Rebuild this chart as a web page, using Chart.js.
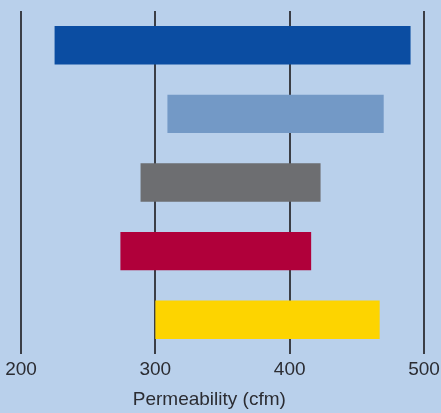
<!DOCTYPE html>
<html>
<head>
<meta charset="utf-8">
<script src="https://cdn.jsdelivr.net/npm/chart.js@4"></script>
<style>
  html, body { margin: 0; padding: 0; background: #b9d0eb; }
  #wrap { width: 441px; height: 413px; }
</style>
</head>
<body>
<div id="wrap"><canvas id="chart" width="441" height="413"></canvas></div>
<script>
// Permeability ranges (cfm) for five materials, low to high
const categories = ['Sample 1', 'Sample 2', 'Sample 3', 'Sample 4', 'Sample 5'];
const lowValues  = [225, 309, 289, 274, 300];
const highValues = [490, 470, 423, 416, 467];
const barColors  = ['#0b4da2', '#7399c6', '#6d6e71', '#b0003a', '#fdd400'];
const tickValues = [200, 300, 400, 500];
const axisTitle  = 'Permeability (cfm)';

const FONT = '"Liberation Sans", Arial, sans-serif';

const ranges = categories.map((_, i) => [lowValues[i], highValues[i]]);

new Chart(document.getElementById('chart'), {
  type: 'bar',
  data: {
    labels: categories,
    datasets: [{
      data: ranges,
      backgroundColor: barColors,
      borderWidth: 0,
      barPercentage: 0.56,
      categoryPercentage: 1
    }]
  },
  options: {
    indexAxis: 'y',
    responsive: false,
    animation: false,
    layout: { padding: { top: 11, left: 21, right: 17, bottom: 0 } },
    plugins: { legend: { display: false }, tooltip: { enabled: false } },
    scales: {
      y: { display: false },
      x: {
        type: 'linear',
        min: 200,
        max: 500,
        afterBuildTicks: (scale) => { scale.ticks = tickValues.map(v => ({ value: v })); },
        afterFit: (scale) => {
          scale.height = 59;
          // end labels may run into the page margin; keep the plot edges fixed
          scale.paddingLeft = 0;
          scale.paddingRight = 0;
        },
        border: { display: false },
        grid: { color: '#3b3e46', lineWidth: 2, drawTicks: false },
        ticks: {
          color: '#2b2c32',
          padding: 4,
          font: { family: FONT, size: 19 },
          maxRotation: 0
        },
        title: {
          display: true,
          // trailing spaces pull the centred title a little to the left
          text: axisTitle + '     ',
          color: '#2b2c32',
          font: { family: FONT, size: 19 },
          padding: { top: 0, bottom: 2 }
        }
      }
    }
  }
});
</script>
</body>
</html>
